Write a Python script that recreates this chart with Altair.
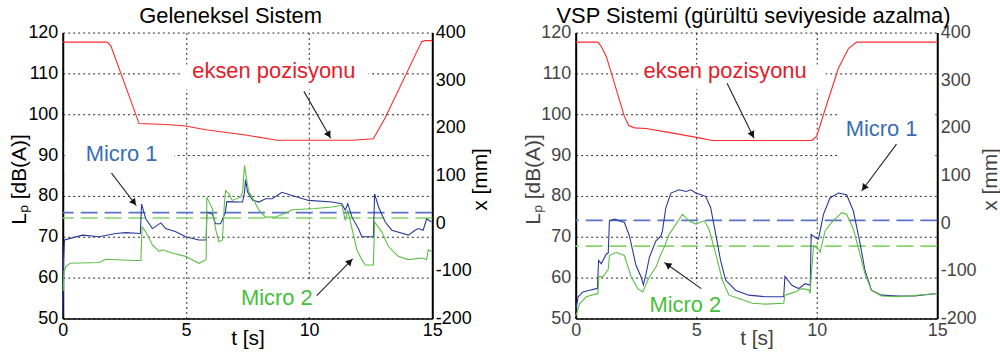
import math
import altair as alt
import pandas as pd

FONT = "Liberation Sans"
PANEL_H = 287
LEFT_W = 371
RIGHT_W = 363

# ---------------- Left panel: Geleneksel Sistem ----------------
left_title = "Geleneksel Sistem"
left_m1_t = [0, 0.03, 0.07, 0.3, 0.81, 1.48, 2.16, 2.56, 3.15, 3.2, 3.37, 3.64, 3.98, 4.18, 4.59,
             4.99, 5.53, 5.82, 5.85, 6.07, 6.2, 6.41, 6.6, 6.66, 7.2, 7.3, 7.38, 7.42, 7.5, 7.7,
             7.96, 8.23, 8.5, 8.9, 9.31, 9.98, 10.93, 11.33, 11.47, 11.57, 11.74, 12.0, 12.14,
             12.61, 12.66, 12.82, 13.09, 13.36, 14.03, 14.3, 14.43, 14.63, 14.77, 14.97]
left_m1_v = [50.6, 64, 69.2, 69.6, 70.4, 70, 70.8, 71, 70.8, 78, 74.4, 72, 73.4, 72, 71.2,
             70, 69.2, 69.2, 76, 75.6, 73.2, 73.2, 76, 78.6, 78.5, 78.5, 81, 84, 81, 79,
             78.5, 79.3, 79.3, 80.9, 80.1, 78.9, 78.5, 78.1, 76.5, 78.1, 74.8, 72, 70,
             70, 80.5, 77.3, 73.6, 71.6, 70.4, 71.6, 72, 71.6, 74.4, 73.6]
left_m2_t = [0.02, 0.05, 0.13, 0.3, 1.48, 1.75, 2.84, 3.17, 3.22, 3.37, 3.64, 3.91, 4.05, 4.45,
             4.99, 5.53, 5.82, 5.85, 6.07, 6.2, 6.34, 6.48, 6.56, 6.61, 6.75, 6.88, 7.22, 7.3,
             7.38, 7.45, 7.55, 7.69, 7.96, 8.23, 8.63, 9.04, 9.31, 10.25, 10.93, 11.33, 11.47,
             11.57, 11.74, 11.94, 12.14, 12.28, 12.61, 12.66, 12.95, 13.22, 13.62, 14.03, 14.57,
             14.77, 14.84, 14.97]
left_m2_v = [56.7, 61.5, 62.7, 63.5, 63.7, 64.5, 64.2, 64.2, 72.4, 71.2, 68, 66.4, 66.8, 66,
             65.2, 63.5, 64.4, 79.7, 76.9, 72, 68.8, 69.2, 78, 81.3, 80.5, 78.9, 79.7, 81,
             87.5, 84.5, 81, 79.7, 76.5, 74.8, 74.8, 75.8, 76.6, 76.9, 77.3, 77.7, 74,
             76.5, 72, 66.8, 64.4, 63.1, 63.1, 73.6, 71.2, 67.6, 65.2, 64.4, 64.8,
             64.4, 66.8, 66.4]
left_pos_t = [0, 1.75, 1.85, 1.96, 3.1, 4.18, 4.99, 5.8, 7.42, 8.7, 11.74, 12.61, 13.09, 14.57, 14.7, 15]
left_pos_v = [380, 380, 378, 371, 209, 207, 204, 196, 185, 174, 174, 177, 221, 381, 383, 383]
left_mean = [75.9, 74.6]            # Micro 1, Micro 2 dashed levels [dB(A)]

# ---------------- Right panel: VSP Sistemi ----------------
right_title = "VSP Sistemi (gürültü seviyeside azalma)"
right_m1_t = [0, 0.1, 0.3, 0.58, 0.85, 0.9, 0.95, 1.06, 1.27, 1.35, 1.4, 1.61, 2.02, 2.23, 2.5,
              2.71, 2.81, 2.92, 3.06, 3.33, 3.54, 3.6, 3.74, 3.95, 4.29, 4.57, 4.78, 4.98, 5.39,
              5.6, 5.81, 6.01, 6.22, 6.63, 7.18, 7.87, 8.63, 8.68, 8.97, 9.25, 9.52, 9.73, 9.77,
              9.94, 10.07, 10.28, 10.55, 10.9, 11.24, 11.52, 11.79, 12.0, 12.27, 12.69, 13.38,
              14.06, 15]
right_m1_v = [52, 55.3, 56.5, 56.9, 57.3, 57.3, 64.2, 63.4, 65.8, 66, 73.9, 74.3, 73.5, 70.2, 63,
              60.2, 58.2, 61, 65, 69, 70.2, 71.5, 77.1, 80.7, 81.5, 81.1, 81.5, 80.7, 79.9,
              77.1, 70.6, 64.2, 59.4, 56.9, 55.7, 55.3, 55.3, 60.3, 58.1, 57.3, 58.5, 58.1, 70.6,
              69.8, 69.4, 75.5, 79.5, 80.7, 80.3, 76.3, 68.6, 61.8, 56.9, 55.7, 55.5,
              55.5, 56.1]
right_m2_t = [0, 0.17, 0.44, 0.85, 0.92, 0.96, 1.13, 1.35, 1.4, 1.68, 2.02, 2.3, 2.57, 2.78, 3.06,
              3.33, 3.54, 3.67, 3.88, 4.16, 4.43, 4.7, 4.98, 5.33, 5.53, 5.81, 6.08, 6.36, 6.77,
              7.32, 7.87, 8.63, 8.68, 9.11, 9.38, 9.68, 9.73, 9.77, 9.87, 10.07, 10.14, 10.35,
              10.62, 11.04, 11.24, 11.52, 11.79, 12.0, 12.27, 12.69, 13.38, 15]
right_m2_v = [50.5, 53.7, 55.3, 56, 56, 60.3, 60.2, 62, 65.4, 66.2, 65.4, 60.2, 57.3, 56.5, 60.2,
              62.6, 65.8, 67.4, 70.6, 73.1, 75.5, 73.9, 73.1, 73.9, 71.9, 65.8, 59.4, 55.7, 54.9,
              53.7, 53.5, 53.7, 55.7, 56.5, 57.3, 57, 56.1, 60.6, 67.8, 67, 66.2, 71.5,
              73.5, 75.9, 75.5, 71.9, 65.8, 61, 56.9, 55.5, 55.3, 56.1]
right_pos_t = [0, 0.92, 1.05, 1.27, 2.02, 2.2, 2.44, 2.92, 3.74, 5.12, 5.67, 9.8, 10.0, 10.28,
               10.9, 11.32, 11.66, 15]
right_pos_v = [380, 380, 372, 350, 224, 205, 200, 198.6, 191.6, 179, 173.6, 173.6, 182.6, 228,
               325, 367, 380, 380]
right_mean = [74.0, 67.7]

# ---------------- Annotations (data coordinates: t [s], Lp [dB(A)]) ----------------
ann_labels = ["eksen pozisyonu", "Micro 1", "Micro 2"]
ann_colors = ["#e3202a", "#3a6db5", "#46bf3c"]
left_ann_xy = [(8.57, 110.5), (2.39, 90.2), (8.69, 54.9)]
left_arrows = [(9.79, 105.6, 10.88, 94.1), (1.98, 85.6, 2.99, 77.6), (10.31, 55.6, 11.77, 64.6)]
left_boxes = [(4.81, 12.41, 106.1, 112.2), (0.08, 4.53, 86.1, 93.4), (7.16, 10.39, 50.5, 59.3)]
right_ann_xy = [(6.2, 110.5), (12.69, 96.3), (4.55, 53.2)]
right_arrows = [(6.28, 107.6, 7.4, 94.1), (13.31, 92.7, 11.86, 81.2), (5.21, 57.3, 3.68, 63.7)]
right_boxes = [(2.64, 10.37, 106.1, 112.2), (10.91, 14.92, 88.0, 100.2), (2.64, 6.36, 50.5, 58.8)]

T_TICKS = [0, 5, 10, 15]
DB_TICKS = [50, 60, 70, 80, 90, 100, 110, 120]
MM_TICKS = [-200, -100, 0, 100, 200, 300, 400]

BLUE = "#2b3a9a"
GREEN = "#5cbf45"
BLUE_D = "#5a72c8"
GREEN_D = "#86d46a"
RED = "#ff2a2a"


def panel(title, width, m1t, m1v, m2t, m2v, pt, pv, means, ann_xy, arrows, boxes,
          txt_color, ytitle_x, y2title_x, title_dx):
    xs = alt.Scale(domain=[0, 15], nice=False, zero=False)
    ys = alt.Scale(domain=[50, 120], nice=False, zero=False)
    ys2 = alt.Scale(domain=[-200, 400], nice=False, zero=False)

    xaxis = alt.Axis(values=T_TICKS, grid=True, gridDash=[2, 3], gridColor="black",
                     gridOpacity=0.85, gridWidth=1, domainColor="black", domainWidth=1.5,
                     ticks=False, labelPadding=3, labelFontSize=18, labelFont=FONT,
                     labelColor=txt_color, labelFlush=False, labelOverlap=False,
                     title="t [s]", titleFont=FONT, titleFontSize=21, titleFontWeight="normal",
                     titleColor=txt_color, titleY=9, titleBaseline="top")
    yaxis = alt.Axis(values=DB_TICKS, grid=True, gridDash=[2, 3], gridColor="black",
                     gridOpacity=0.85, gridWidth=1, domainColor="black", domainWidth=2,
                     ticks=False, labelPadding=5, labelFontSize=18, labelFont=FONT,
                     labelColor=txt_color, labelFlush=False, labelOverlap=False,
                     title="Lₚ [dB(A)]", titleFont=FONT, titleFontSize=21,
                     titleFontWeight="normal", titleColor=txt_color, titleAngle=270,
                     titleX=ytitle_x, titleY=147, titleAlign="center", titleBaseline="middle")
    y2axis = alt.Axis(values=MM_TICKS, orient="right", grid=False, domainColor="black",
                      domainWidth=2, ticks=False, labelPadding=3, labelFontSize=18,
                      labelFont=FONT, labelColor=txt_color, labelFlush=False,
                      labelOverlap=False, labelExpr="'' + datum.value",
                      title="x [mm]", titleFont=FONT, titleFontSize=21,
                      titleFontWeight="normal", titleColor=txt_color, titleAngle=270,
                      titleX=y2title_x, titleY=147, titleAlign="center", titleBaseline="middle")

    X = alt.X("t:Q", scale=xs, axis=xaxis)
    Y = alt.Y("v:Q", scale=ys, axis=yaxis)

    box_df = pd.DataFrame(boxes, columns=["t", "t2", "v", "v2"])
    boxes_l = alt.Chart(box_df).mark_rect(color="white").encode(
        x=X, x2="t2:Q", y=Y, y2="v2:Q")

    m1 = alt.Chart(pd.DataFrame({"t": m1t, "v": m1v})).mark_line(
        color=BLUE, strokeWidth=1.1).encode(x=X, y=Y)
    m2 = alt.Chart(pd.DataFrame({"t": m2t, "v": m2v})).mark_line(
        color=GREEN, strokeWidth=1.1).encode(x=X, y=Y)

    mean_df = pd.DataFrame({"v": means, "c": [BLUE_D, GREEN_D]})
    means_l = alt.Chart(mean_df).mark_rule(strokeDash=[17, 7], strokeWidth=1.6).encode(
        y=Y, color=alt.Color("c:N", scale=None))

    px_t = width / 15.0
    px_db = PANEL_H / 70.0
    heads = []
    for (t1, v1, t2, v2) in arrows:
        dx = (t2 - t1) * px_t
        dy = -(v2 - v1) * px_db
        L = math.hypot(dx, dy)
        ux, uy = dx / L, dy / L
        ang = math.degrees(math.atan2(dx, -dy)) % 360
        back = 4.0
        heads.append({"t": t2 - ux * back / px_t, "v": v2 + uy * back / px_db, "a": ang})
    arr_df = pd.DataFrame(arrows, columns=["t", "v", "t2", "v2"])
    arr_l = alt.Chart(arr_df).mark_rule(color="#222222", strokeWidth=1.1).encode(
        x=X, x2="t2:Q", y=Y, y2="v2:Q")
    head_l = alt.Chart(pd.DataFrame(heads)).mark_point(
        shape="triangle-up", filled=True, color="#111111", opacity=1, size=55).encode(
        x=X, y=Y, angle=alt.Angle("a:Q", scale=None))

    txt_df = pd.DataFrame({"t": [p[0] for p in ann_xy], "v": [p[1] for p in ann_xy],
                           "lab": ann_labels, "c": ann_colors})
    txt_l = alt.Chart(txt_df).mark_text(font=FONT, fontSize=22, align="center",
                                        baseline="middle").encode(
        x=X, y=Y, text="lab:N", color=alt.Color("c:N", scale=None))

    db_layer = alt.layer(boxes_l, means_l, m1, m2, arr_l, head_l, txt_l)

    pos = alt.Chart(pd.DataFrame({"t": pt, "v": pv})).mark_line(
        color=RED, strokeWidth=1.1).encode(
        x=X, y=alt.Y("v:Q", scale=ys2, axis=y2axis))

    return alt.layer(db_layer, pos).resolve_scale(y="independent").properties(
        width=width, height=PANEL_H,
        title=alt.TitleParams(title, font=FONT, fontSize=22, fontWeight="normal",
                              color="black", offset=-4, anchor="middle", dx=title_dx))


left = panel(left_title, LEFT_W, left_m1_t, left_m1_v, left_m2_t, left_m2_v,
             left_pos_t, left_pos_v, left_mean, left_ann_xy, left_arrows, left_boxes,
             "black", -43, 48, -17)
right = panel(right_title, RIGHT_W, right_m1_t, right_m1_v, right_m2_t, right_m2_v,
              right_pos_t, right_pos_v, right_mean, right_ann_xy, right_arrows, right_boxes,
              "#444444", -42, 53, -3)

chart = alt.hconcat(left, right, spacing=33).properties(
    padding={"left": 9, "top": 4, "right": 0, "bottom": 0},
    background="white",
).configure_view(strokeWidth=0)

chart.save("out.html", embed_options={"renderer": "svg", "actions": False})
